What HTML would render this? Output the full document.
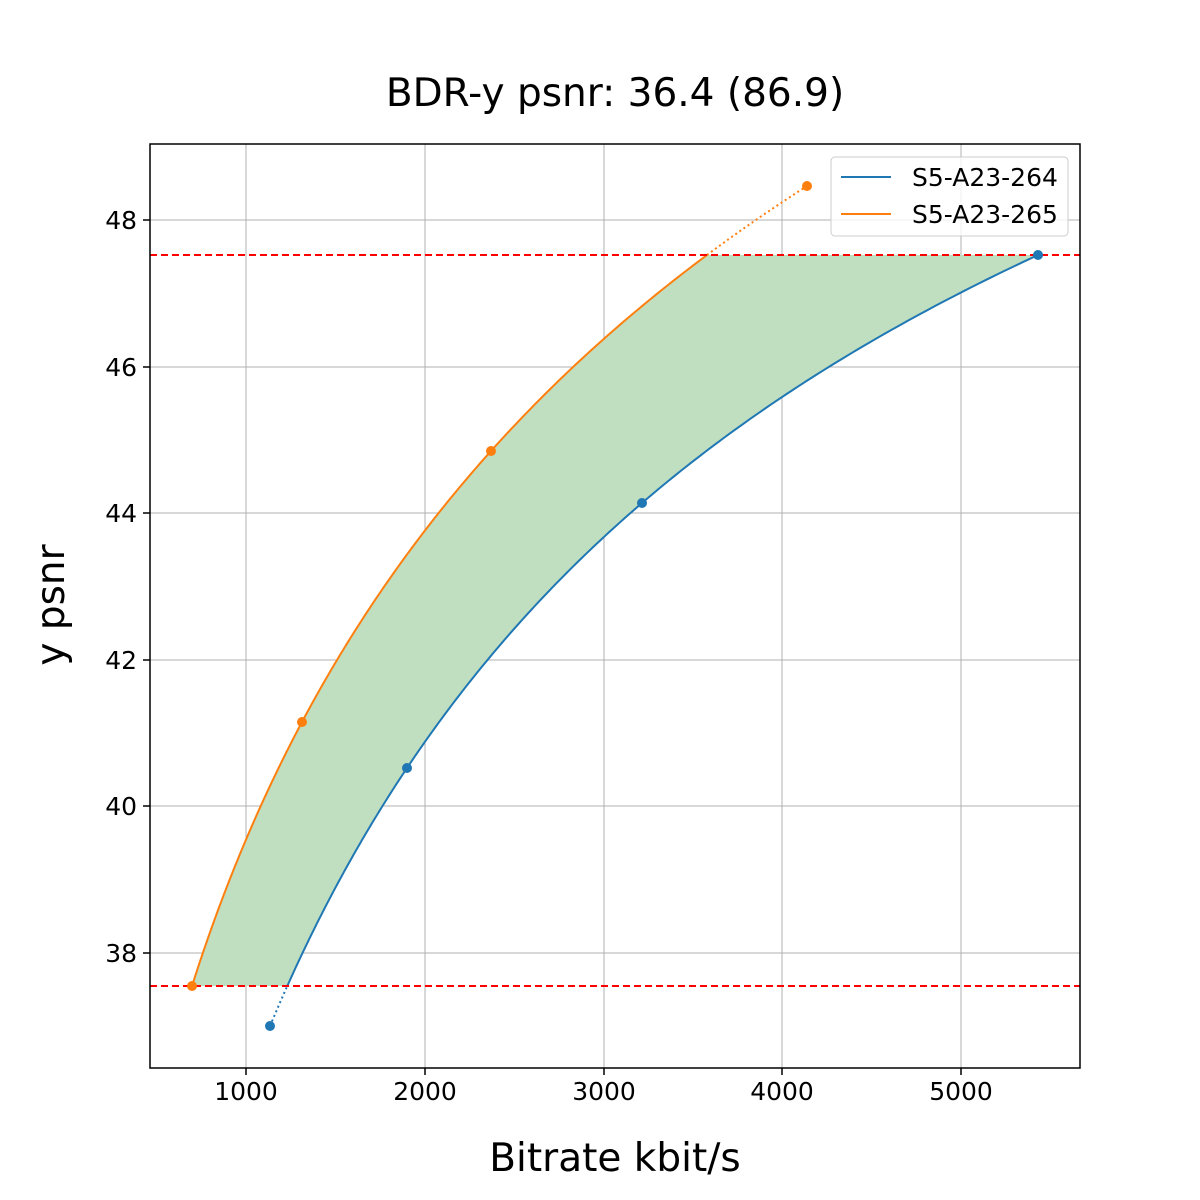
<!DOCTYPE html>
<html><head><meta charset="utf-8"><style>body{margin:0;background:#fff}svg{display:block;font-family:"DejaVu Sans","Liberation Sans",sans-serif}</style></head>
<body>
<svg id="s" width="1200" height="1200" xmlns="http://www.w3.org/2000/svg">
<rect width="1200" height="1200" fill="#fff"/>
<g stroke="#b0b0b0" stroke-width="1">
<line x1="246" y1="144" x2="246" y2="1068"/><line x1="425" y1="144" x2="425" y2="1068"/><line x1="604" y1="144" x2="604" y2="1068"/><line x1="782" y1="144" x2="782" y2="1068"/><line x1="961" y1="144" x2="961" y2="1068"/>
<line x1="150" y1="220" x2="1080" y2="220"/><line x1="150" y1="367" x2="1080" y2="367"/><line x1="150" y1="513" x2="1080" y2="513"/><line x1="150" y1="660" x2="1080" y2="660"/><line x1="150" y1="806" x2="1080" y2="806"/><line x1="150" y1="953" x2="1080" y2="953"/>
</g>
<path id="fill" fill="#c0dfc0" stroke="none"/>
<path id="po" fill="none" stroke="#ff7f0e" stroke-width="2"/>
<path id="pb" fill="none" stroke="#1f77b4" stroke-width="2"/>
<line id="od" x1="710" y1="255" x2="807" y2="186" stroke="#ff7f0e" stroke-width="2" stroke-dasharray="2,3"/>
<line id="bd" x1="270" y1="1026" x2="285" y2="986" stroke="#1f77b4" stroke-width="2" stroke-dasharray="2,3"/>
<line x1="150" y1="255" x2="1080" y2="255" stroke="#f00" stroke-width="2" stroke-dasharray="7,4"/>
<line x1="150" y1="986" x2="1080" y2="986" stroke="#f00" stroke-width="2" stroke-dasharray="7,4"/>
<g fill="#1f77b4"><circle cx="270" cy="1026" r="5"/><circle cx="407" cy="768" r="5"/><circle cx="642" cy="503" r="5"/><circle cx="1038" cy="255" r="5"/></g>
<g fill="#ff7f0e"><circle cx="192" cy="986" r="5"/><circle cx="302" cy="722" r="5"/><circle cx="491" cy="451" r="5"/><circle cx="807" cy="186" r="5"/></g>
<rect x="150" y="144" width="930" height="924" fill="none" stroke="#000" stroke-width="1.5"/>
<g stroke="#000" stroke-width="1.5">
<line x1="246" y1="1068" x2="246" y2="1075"/><line x1="425" y1="1068" x2="425" y2="1075"/><line x1="604" y1="1068" x2="604" y2="1075"/><line x1="782" y1="1068" x2="782" y2="1075"/><line x1="961" y1="1068" x2="961" y2="1075"/>
<line x1="143" y1="220" x2="150" y2="220"/><line x1="143" y1="367" x2="150" y2="367"/><line x1="143" y1="513" x2="150" y2="513"/><line x1="143" y1="660" x2="150" y2="660"/><line x1="143" y1="806" x2="150" y2="806"/><line x1="143" y1="953" x2="150" y2="953"/>
</g>
<g font-size="25" text-anchor="middle">
<text x="246" y="1100">1000</text><text x="425" y="1100">2000</text><text x="604" y="1100">3000</text><text x="782" y="1100">4000</text><text x="961" y="1100">5000</text>
</g>
<g font-size="25" text-anchor="end">
<text x="137" y="229">48</text><text x="137" y="376">46</text><text x="137" y="522">44</text><text x="137" y="669">42</text><text x="137" y="815">40</text><text x="137" y="962">38</text>
</g>
<text x="615" y="106" font-size="39" text-anchor="middle">BDR-y psnr: 36.4 (86.9)</text>
<text x="615" y="1171" font-size="39" text-anchor="middle">Bitrate kbit/s</text>
<text transform="translate(64,605) rotate(-90)" font-size="39" text-anchor="middle">y psnr</text>
<rect x="831" y="157" width="237" height="79" rx="4" fill="#fff" fill-opacity="0.8" stroke="#ccc"/>
<line x1="841" y1="177" x2="891" y2="177" stroke="#1f77b4" stroke-width="2"/>
<line x1="841" y1="214" x2="891" y2="214" stroke="#ff7f0e" stroke-width="2"/>
<text x="912" y="186" font-size="25">S5-A23-264</text>
<text x="912" y="223" font-size="25">S5-A23-265</text>
</svg>
<script>
const X=r=>246+(r-1000)*0.17875, Y=p=>953-(p-38)*73.27;
const Rx=x=>1000+(x-246)/0.17875, Py=y=>38+(953-y)/73.27;
function lag(pts,t){let s=0;for(let i=0;i<pts.length;i++){let l=1;for(let j=0;j<pts.length;j++)if(j!=i)l*=(t-pts[j][0])/(pts[i][0]-pts[j][0]);s+=l*pts[i][1];}return s;}
function mk(px){return px.map(p=>[Py(p[1]),Math.log(Rx(p[0]))]);}
const O=mk([[192,986],[302,722],[491,451],[807,186]]);
const B=mk([[270,1026],[407,768],[642,503],[1038,255]]);
const lo=Py(986), hi=Py(255);
function curve(D,a,b){const pts=[];for(let i=0;i<=200;i++){const p=a+(b-a)*i/200;pts.push([X(Math.exp(lag(D,p))),Y(p)]);}return pts;}
const toD=(pts)=>"M"+pts.map(p=>p[0].toFixed(2)+","+p[1].toFixed(2)).join(" L");
const oc=curve(O,O[0][0],hi), bc=curve(B,lo,B[3][0]);
document.getElementById("po").setAttribute("d",toD(oc));
document.getElementById("pb").setAttribute("d",toD(bc));
document.getElementById("od").setAttribute("d","");
const od=curve(O,hi,O[3][0]), bd=curve(B,B[0][0],lo);
const s=document.getElementById("s");
function dotted(pts,c,ref){const e=document.createElementNS("http://www.w3.org/2000/svg","path");e.setAttribute("d",toD(pts));e.setAttribute("fill","none");e.setAttribute("stroke",c);e.setAttribute("stroke-width","2");e.setAttribute("stroke-dasharray","2,3");ref.replaceWith(e);}
dotted(od,"#ff7f0e",document.getElementById("od"));
dotted(bd,"#1f77b4",document.getElementById("bd"));
const fo=curve(O,lo,hi), fb=curve(B,lo,hi).reverse();
document.getElementById("fill").setAttribute("d",toD(fo.concat(fb))+" Z");
</script>
</body></html>
